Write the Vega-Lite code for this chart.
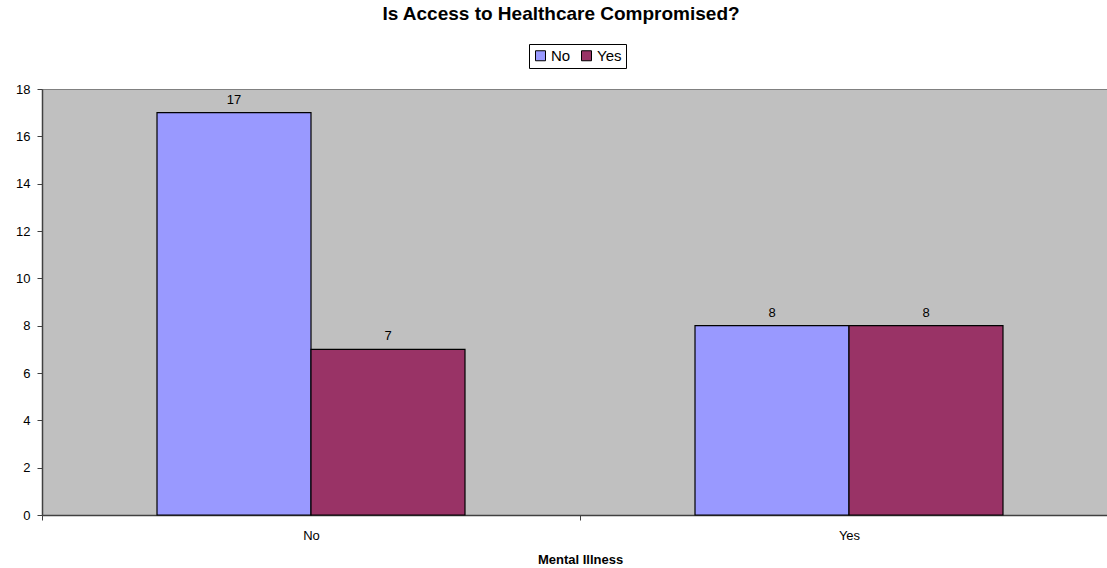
{
  "$schema": "https://vega.github.io/schema/vega-lite/v6.json",
  "autosize": {"type": "none"},
  "padding": {"left": 42, "top": 89, "right": 0, "bottom": 53},
  "width": 1076,
  "height": 426,
  "background": "white",
  "config": {
    "font": "Liberation Sans",
    "view": {"fill": "#C0C0C0", "stroke": "#808080", "strokeWidth": 1}
  },
  "title": {
    "text": "Is Access to Healthcare Compromised?",
    "anchor": "middle",
    "frame": "group",
    "fontSize": 19,
    "fontWeight": "bold",
    "font": "Liberation Sans",
    "color": "black",
    "baseline": "alphabetic",
    "offset": 5,
    "dx": -19
  },
  "data": {
    "values": [
      {"Mental Illness": "No", "Compromised": "No", "Count": 17},
      {"Mental Illness": "No", "Compromised": "Yes", "Count": 7},
      {"Mental Illness": "Yes", "Compromised": "No", "Count": 8},
      {"Mental Illness": "Yes", "Compromised": "Yes", "Count": 8}
    ]
  },
  "encoding": {
    "x": {
      "field": "Mental Illness",
      "type": "nominal",
      "sort": ["No", "Yes"],
      "scale": {"paddingInner": 0, "paddingOuter": 0},
      "axis": {
        "title": "Mental Illness",
        "titleFontSize": 13,
        "titleFontWeight": "bold",
        "titleColor": "black",
        "titlePadding": 11,
        "labelAngle": 0,
        "labelFontSize": 13,
        "labelColor": "black",
        "labelPadding": 9,
        "tickBand": "extent",
        "tickSize": 5,
        "tickColor": "#404040",
        "domainColor": "#404040",
        "domainWidth": 1.5
      }
    },
    "xOffset": {
      "field": "Compromised",
      "type": "nominal",
      "sort": ["No", "Yes"],
      "scale": {"paddingInner": 0, "paddingOuter": 0.7468}
    },
    "y": {
      "field": "Count",
      "type": "quantitative",
      "scale": {"domain": [0, 18], "nice": false},
      "axis": {
        "title": null,
        "values": [0, 2, 4, 6, 8, 10, 12, 14, 16, 18],
        "grid": false,
        "labelFontSize": 13,
        "labelColor": "black",
        "labelPadding": 7,
        "tickSize": 5,
        "tickColor": "#404040",
        "domainColor": "#404040",
        "domainWidth": 1.5
      }
    }
  },
  "layer": [
    {
      "mark": {"type": "bar", "stroke": "black", "strokeWidth": 1.2},
      "encoding": {
        "color": {
          "field": "Compromised",
          "type": "nominal",
          "sort": ["No", "Yes"],
          "scale": {"domain": ["No", "Yes"], "range": ["#9999FF", "#993366"]},
          "legend": {
            "title": null,
            "orient": "none",
            "direction": "horizontal",
            "legendX": 487,
            "legendY": -45,
            "symbolType": "square",
            "symbolSize": 100,
            "symbolStrokeColor": "black",
            "symbolStrokeWidth": 1,
            "symbolOpacity": 1,
            "labelFontSize": 15,
            "labelColor": "black",
            "labelOffset": 3,
            "columnPadding": 8,
            "strokeColor": "black",
            "fillColor": "white",
            "padding": 4
          }
        }
      }
    },
    {
      "mark": {"type": "text", "baseline": "alphabetic", "dy": -9, "fontSize": 13, "color": "black"},
      "encoding": {"text": {"field": "Count", "type": "quantitative"}}
    }
  ]
}
